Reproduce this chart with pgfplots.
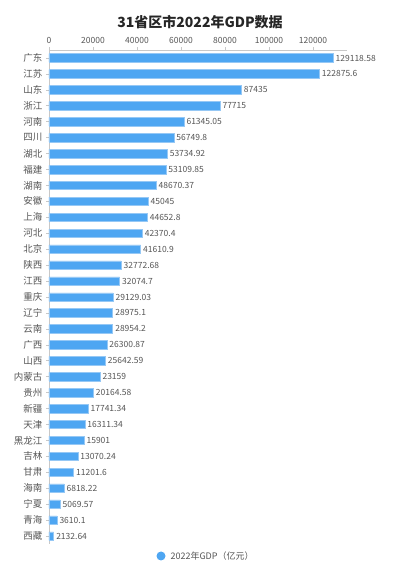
\documentclass[border=0pt]{standalone}
\usepackage{pgfplots}
\pgfplotsset{compat=1.18}
\usepackage{pgfplotstable}
\usepackage{fontspec}
\setmainfont{Noto Sans CJK SC}
\definecolor{barblue}{RGB}{78,166,242}
\definecolor{baredge}{RGB}{150,200,245}
\definecolor{txtgray}{RGB}{85,85,85}
\definecolor{axgray}{RGB}{200,200,200}
\pgfplotstableread{
idx val lab
0 129118.58 129118.58
1 122875.6 122875.6
2 87435 87435
3 77715 77715
4 61345.05 61345.05
5 56749.8 56749.8
6 53734.92 53734.92
7 53109.85 53109.85
8 48670.37 48670.37
9 45045 45045
10 44652.8 44652.8
11 42370.4 42370.4
12 41610.9 41610.9
13 32772.68 32772.68
14 32074.7 32074.7
15 29129.03 29129.03
16 28975.1 28975.1
17 28954.2 28954.2
18 26300.87 26300.87
19 25642.59 25642.59
20 23159 23159
21 20164.58 20164.58
22 17741.34 17741.34
23 16311.34 16311.34
24 15901 15901
25 13070.24 13070.24
26 11201.6 11201.6
27 6818.22 6818.22
28 5069.57 5069.57
29 3610.1 3610.1
30 2132.64 2132.64
}\gdp
\begin{document}
\begin{tikzpicture}
\useasboundingbox (0pt,0pt) rectangle (400pt,579pt);
\node[font=\bfseries\fontsize{14}{16}\selectfont, text=black!85] at (200pt,557pt) {31省区市2022年GDP数据};
\begin{axis}[
  at={(49pt,35pt)}, anchor=south west,
  scale only axis, width=298pt, height=494pt,
  xmin=0, xmax=135450,
  ymin=-0.5, ymax=30.5, y dir=reverse,
  axis x line*=top,
  axis y line*=left,
  axis line style={axgray, line width=0.6pt},
  xtick={0,20000,40000,60000,80000,100000,120000},
  xticklabels={0,20000,40000,60000,80000,100000,120000},
  scaled x ticks=false,
  xticklabel style={font=\fontsize{8.5}{10}\selectfont, text=txtgray},
  ytick={0,...,30},
  yticklabels={广东,江苏,山东,浙江,河南,四川,湖北,福建,湖南,安徽,上海,河北,北京,陕西,江西,重庆,辽宁,云南,广西,山西,内蒙古,贵州,新疆,天津,黑龙江,吉林,甘肃,海南,宁夏,青海,西藏},
  yticklabel style={font=\fontsize{9.5}{11}\selectfont, text=txtgray},
  tick style={axgray, line width=0.6pt},
  major tick length=3pt,
  tick align=outside,
  xbar, bar width=8.5pt,
  point meta=explicit symbolic,
  nodes near coords,
  nodes near coords style={font=\fontsize{8.5}{10}\selectfont, text=txtgray, anchor=west, xshift=-1pt},
  clip=false,
]
\addplot[fill=barblue, draw=baredge, line width=0.5pt] table[x=val, y=idx, meta=lab] {\gdp};
\end{axis}
\fill[barblue] (161pt,23pt) circle (4.5pt);
\node[anchor=west, font=\fontsize{9}{11}\selectfont, text=txtgray] at (167pt,23pt) {2022年GDP（亿元）};
\end{tikzpicture}
\end{document}
